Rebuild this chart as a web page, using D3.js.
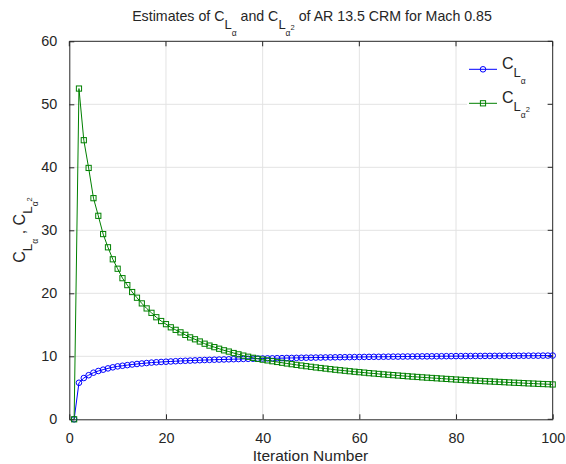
<!DOCTYPE html>
<html>
<head>
<meta charset="utf-8">
<script src="https://cdn.jsdelivr.net/npm/d3@7"></script>
<style>
  html, body { margin: 0; padding: 0; background: #fff; }
  svg { display: block; }
  text { font-family: "Liberation Sans", Arial, Helvetica, sans-serif; fill: #262626; }
</style>
</head>
<body>
<svg id="chart" width="566" height="464"></svg>
<script>
// ---------- data ----------
const iterations = d3.range(1, 101);
const xTicks = [0, 20, 40, 60, 80, 100];
const yTicks = [0, 10, 20, 30, 40, 50, 60];

const cLalpha = [
  0.00, 5.80, 6.55, 7.00, 7.40, 7.67, 7.88, 8.08, 8.25, 8.40,
  8.50, 8.60, 8.70, 8.78, 8.86, 8.93, 9.00, 9.05, 9.10, 9.14,
  9.18, 9.22, 9.26, 9.29, 9.32, 9.35, 9.38, 9.41, 9.43, 9.46,
  9.48, 9.50, 9.52, 9.54, 9.56, 9.58, 9.60, 9.62, 9.64, 9.65,
  9.67, 9.68, 9.70, 9.71, 9.73, 9.74, 9.75, 9.77, 9.78, 9.79,
  9.80, 9.81, 9.82, 9.83, 9.84, 9.85, 9.86, 9.87, 9.88, 9.89,
  9.90, 9.91, 9.92, 9.92, 9.93, 9.94, 9.95, 9.95, 9.96, 9.97,
  9.97, 9.98, 9.99, 9.99, 10.00, 10.00, 10.01, 10.02, 10.02, 10.03,
  10.03, 10.04, 10.04, 10.05, 10.05, 10.06, 10.06, 10.07, 10.07, 10.08,
  10.08, 10.08, 10.09, 10.09, 10.10, 10.10, 10.10, 10.11, 10.11, 10.12
];

const cLalpha2 = [
  0.00, 52.50, 44.30, 39.90, 35.10, 32.30, 29.40, 27.30, 25.40, 23.90,
  22.40, 21.30, 20.20, 19.30, 18.40, 17.60, 16.90, 16.20, 15.60, 15.10,
  14.60, 14.20, 13.80, 13.40, 13.00, 12.70, 12.35, 12.00, 11.70, 11.45,
  11.20, 10.95, 10.75, 10.52, 10.31, 10.11, 9.93, 9.76, 9.60, 9.47,
  9.35, 9.22, 9.10, 8.98, 8.86, 8.75, 8.64, 8.53, 8.43, 8.33,
  8.23, 8.14, 8.05, 7.96, 7.87, 7.79, 7.71, 7.63, 7.55, 7.48,
  7.41, 7.33, 7.27, 7.20, 7.13, 7.07, 7.01, 6.95, 6.89, 6.83,
  6.77, 6.72, 6.66, 6.61, 6.56, 6.51, 6.46, 6.41, 6.36, 6.31,
  6.27, 6.22, 6.18, 6.13, 6.09, 6.05, 6.01, 5.97, 5.93, 5.89,
  5.85, 5.81, 5.78, 5.74, 5.70, 5.67, 5.63, 5.60, 5.57, 5.53
];

// ---------- layout ----------
const svg = d3.select("#chart");
const L = 69.3, R = 552.7, T = 41.3, B = 419.3;
const x = d3.scaleLinear().domain([0, 100]).range([L, R]);
const y = d3.scaleLinear().domain([0, 60]).range([B, T]);
const axisColor = "#262626";
const gridColor = "#e3e3e3";

// grid
const grid = svg.append("g");
grid.selectAll("line.gx").data(xTicks.filter(d => d > 0 && d < 100)).join("line")
  .attr("x1", d => x(d)).attr("x2", d => x(d)).attr("y1", T).attr("y2", B)
  .attr("stroke", gridColor).attr("stroke-width", 1);
grid.selectAll("line.gy").data(yTicks.filter(d => d > 0 && d < 60)).join("line")
  .attr("y1", d => y(d)).attr("y2", d => y(d)).attr("x1", L).attr("x2", R)
  .attr("stroke", gridColor).attr("stroke-width", 1);

// axes (ticks inside)
const fs = "14.4px";
const xAxis = svg.append("g").attr("transform", `translate(0,${B})`)
  .call(d3.axisBottom(x).tickValues(xTicks).tickSizeInner(-5).tickSizeOuter(0).tickPadding(13));
const yAxis = svg.append("g").attr("transform", `translate(${L},0)`)
  .call(d3.axisLeft(y).tickValues(yTicks).tickSizeInner(-5).tickSizeOuter(0).tickPadding(12));
[xAxis, yAxis].forEach(g => {
  g.select(".domain").attr("stroke", axisColor);
  g.selectAll(".tick line").attr("stroke", axisColor);
  g.selectAll(".tick text").attr("fill", axisColor).style("font-size", fs)
    .style("font-family", '"Liberation Sans", Arial, Helvetica, sans-serif');
});
// top & right box lines with inward ticks
const box = svg.append("g").attr("stroke", axisColor).attr("stroke-width", 1);
box.append("line").attr("x1", L).attr("x2", R).attr("y1", T).attr("y2", T);
box.append("line").attr("x1", R).attr("x2", R).attr("y1", T).attr("y2", B);
box.selectAll("line.tt").data(xTicks).join("line")
  .attr("x1", d => x(d)).attr("x2", d => x(d)).attr("y1", T).attr("y2", T + 5);
box.selectAll("line.tr").data(yTicks).join("line")
  .attr("x1", R - 5).attr("x2", R).attr("y1", d => y(d)).attr("y2", d => y(d));

// series
const blue = "#0000ff", green = "#008000";
const line = d3.line().x((d, i) => x(iterations[i])).y(d => y(d));
const g1 = svg.append("g");
g1.append("path").datum(cLalpha).attr("d", line).attr("fill", "none").attr("stroke", blue).attr("stroke-width", 1);
g1.selectAll("circle").data(cLalpha).join("circle")
  .attr("cx", (d, i) => x(iterations[i])).attr("cy", d => y(d)).attr("r", 2.8)
  .attr("fill", "none").attr("stroke", blue).attr("stroke-width", 1);
const g2 = svg.append("g");
g2.append("path").datum(cLalpha2).attr("d", line).attr("fill", "none").attr("stroke", green).attr("stroke-width", 1);
g2.selectAll("rect").data(cLalpha2).join("rect")
  .attr("x", (d, i) => x(iterations[i]) - 2.6).attr("y", d => y(d) - 2.6)
  .attr("width", 5.2).attr("height", 5.2)
  .attr("fill", "none").attr("stroke", green).attr("stroke-width", 1);

// helper for rich text with sub/superscripts
function rich(textSel, parts) {
  parts.forEach(p => {
    const t = textSel.append("tspan").text(p.t).style("font-size", p.s + "px");
    if (p.dy) t.attr("dy", p.dy);
  });
}

// title
const title = svg.append("text").attr("x", 312).attr("y", 20.7).attr("text-anchor", "middle").attr("fill", "#000");
rich(title, [
  { t: "Estimates of C", s: 14.2 },
  { t: "L", s: 13, dy: 8.6 },
  { t: "α", s: 8.5, dy: 6.7 },
  { t: "  and C", s: 14.2, dy: -15.3 },
  { t: "L", s: 13, dy: 8.6 },
  { t: "α", s: 8.5, dy: 6.7 },
  { t: "2", s: 7.5, dy: -6 },
  { t: "  of AR 13.5 CRM for Mach 0.85", s: 14.2, dy: -9.3 }
]);

// axis labels
svg.append("text").attr("x", 310.5).attr("y", 461).attr("text-anchor", "middle")
  .style("font-size", "15.5px").attr("fill", axisColor).text("Iteration Number");
const yl = svg.append("text").attr("transform", "translate(25,230) rotate(-90)")
  .attr("text-anchor", "middle").attr("fill", axisColor);
rich(yl, [
  { t: "C", s: 16 },
  { t: "L", s: 13.5, dy: 6.5 },
  { t: "α", s: 8.5, dy: 6.5 },
  { t: "  ,  C", s: 16, dy: -13 },
  { t: "L", s: 13.5, dy: 6.5 },
  { t: "α", s: 8.5, dy: 6.5 },
  { t: "2", s: 7.5, dy: -6 }
]);

// legend
const lg = svg.append("g");
lg.append("rect").attr("x", 467).attr("y", 47).attr("width", 80).attr("height", 78).attr("fill", "#fff");
const legendItems = [
  { color: blue, shape: "circle", y: 69.3, sup: false },
  { color: green, shape: "square", y: 103.3, sup: true }
];
legendItems.forEach(it => {
  lg.append("line").attr("x1", 469).attr("x2", 497).attr("y1", it.y).attr("y2", it.y)
    .attr("stroke", it.color).attr("stroke-width", 1);
  if (it.shape === "circle") {
    lg.append("circle").attr("cx", 483).attr("cy", it.y).attr("r", 2.8)
      .attr("fill", "none").attr("stroke", it.color);
  } else {
    lg.append("rect").attr("x", 483 - 2.6).attr("y", it.y - 2.6).attr("width", 5.2).attr("height", 5.2)
      .attr("fill", "none").attr("stroke", it.color);
  }
  const t = lg.append("text").attr("x", 502).attr("y", it.y).attr("fill", "#000");
  const parts = [
    { t: "C", s: 16 },
    { t: "L", s: 13, dy: 7.7 },
    { t: "α", s: 8.5, dy: 6.6 }
  ];
  if (it.sup) parts.push({ t: "2", s: 7.5, dy: -6 });
  rich(t, parts);
});
</script>
</body>
</html>
